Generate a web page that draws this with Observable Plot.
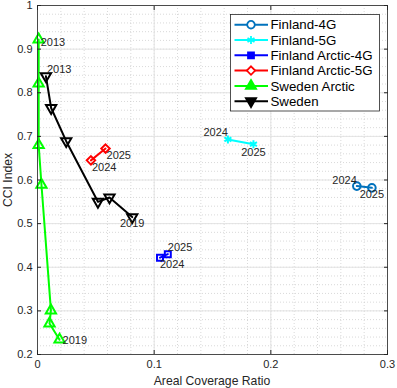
<!DOCTYPE html>
<html><head><meta charset="utf-8">
<script src="https://cdn.jsdelivr.net/npm/d3@7"></script>
<script src="https://cdn.jsdelivr.net/npm/@observablehq/plot@0.6"></script>
<style>
body{margin:0;background:#fff;}
#chart svg{font-family:"Liberation Sans",Arial,sans-serif;background:#fff;}
</style>
</head><body><div id="chart"></div>
<script>
// ---- data ----
const seriesNames = ["Finland-4G","Finland-5G","Finland Arctic-4G","Finland Arctic-5G","Sweden Arctic","Sweden"];
const seriesColors = ["#0072BD","#00FFFF","#0000FF","#FF0000","#00FF00","#000000"];
const seriesSymbols = ["circle","asterisk","square2","diamond2","triangle","triangle"];

const finland4gX = [0.2737, 0.2866];
const finland4gY = [0.586, 0.582];
const finland4gYears = ["2024","2025"];

const finland5gX = [0.1632, 0.1851];
const finland5gY = [0.693, 0.682];
const finland5gYears = ["2024","2025"];

const finArctic4gX = [0.1050, 0.1117];
const finArctic4gY = [0.422, 0.430];
const finArctic4gYears = ["2024","2025"];

const finArctic5gX = [0.0458, 0.0583];
const finArctic5gY = [0.645, 0.672];
const finArctic5gYears = ["2024","2025"];

const swedenArcticX = [0.0010, 0.0010, 0.0010, 0.0034, 0.0115, 0.0103, 0.0189];
const swedenArcticY = [0.922, 0.821, 0.680, 0.589, 0.301, 0.271, 0.234];
const swedenArcticYears = ["2013","2014","2015","2016","2017","2018","2019"];

const swedenX = [0.0072, 0.0117, 0.0246, 0.0518, 0.0617, 0.0812];
const swedenY = [0.838, 0.765, 0.689, 0.550, 0.560, 0.515];
const swedenYears = ["2013","2014","2015","2016","2018","2019"];

const xTicks = [0, 0.1, 0.2, 0.3];
const xTickLabels = ["0","0.1","0.2","0.3"];
const yTicks = [0.2,0.3,0.4,0.5,0.6,0.7,0.8,0.9,1.0];
const yTickLabels = ["0.2","0.3","0.4","0.5","0.6","0.7","0.8","0.9","1"];
const xLabel = "Areal Coverage Ratio";
const yLabel = "CCI Index";

// ---- build rows ----
const seriesData = [
  [seriesNames[0], finland4gX, finland4gY, finland4gYears],
  [seriesNames[1], finland5gX, finland5gY, finland5gYears],
  [seriesNames[2], finArctic4gX, finArctic4gY, finArctic4gYears],
  [seriesNames[3], finArctic5gX, finArctic5gY, finArctic5gYears],
  [seriesNames[4], swedenArcticX, swedenArcticY, swedenArcticYears],
  [seriesNames[5], swedenX, swedenY, swedenYears]
];
const rows = seriesData.flatMap(([s, xs, ys, yrs]) => xs.map((x, i) => ({series: s, x, y: ys[i], year: yrs[i]})));

// year label placement (style only)
const labelSpecs = [
  ["Finland-4G", "2024", "end", 0, -6],
  ["Finland-4G", "2025", "middle", 0, 7],
  ["Finland-5G", "2024", "end", 0, -7],
  ["Finland-5G", "2025", "middle", 0, 8],
  ["Finland Arctic-4G", "2024", "start", 0, 7],
  ["Finland Arctic-4G", "2025", "start", 0, -7],
  ["Finland Arctic-5G", "2024", "start", 1, 7],
  ["Finland Arctic-5G", "2025", "start", 1, 7],
  ["Sweden Arctic", "2013", "start", 2, 3],
  ["Sweden Arctic", "2019", "start", 3, 1],
  ["Sweden", "2013", "start", 1, -7],
  ["Sweden", "2019", "middle", 0, 6]
];
const labelMarks = labelSpecs.map(([s, yr, anchor, dx, dy]) =>
  Plot.text(rows.filter(d => d.series === s && d.year === yr), {
    x: "x", y: "y", text: "year", textAnchor: anchor, dx, dy,
    fontSize: 11, fill: "#262626"
  })
);

const xMinor = d3.range(0, 0.3001, 0.02);
const yMinor = d3.range(0.2, 1.0001, 0.02);

const W = 397, H = 388;
const chart = Plot.plot({
  width: W, height: H,
  marginLeft: 37, marginRight: 10, marginTop: 5, marginBottom: 34,
  style: {fontSize: "11px", color: "#262626", background: "#fff"},
  x: {domain: [0, 0.3]},
  y: {domain: [0.2, 1]},
  color: {domain: seriesNames, range: seriesColors},
  symbol: {domain: seriesNames, range: seriesSymbols},
  marks: [
    Plot.ruleX(xMinor, {stroke: "#c8c8c8", strokeWidth: 0.7, strokeDasharray: "1,2"}),
    Plot.ruleY(yMinor, {stroke: "#c8c8c8", strokeWidth: 0.7, strokeDasharray: "1,2"}),
    Plot.ruleX(xTicks, {stroke: "#e3e3e3", strokeWidth: 1}),
    Plot.ruleY(yTicks, {stroke: "#e3e3e3", strokeWidth: 1}),
    Plot.line(rows, {x: "x", y: "y", z: "series", stroke: "series", strokeWidth: 2}),
    Plot.dot(rows, {x: "x", y: "y", symbol: "series", stroke: "series", fill: "none",
      r: 3.8, strokeWidth: 2, rotate: d => d.series === "Sweden" ? 180 : 0}),
    ...labelMarks,
    Plot.frame({stroke: "#262626", strokeWidth: 0.8}),
    Plot.axisX(xTicks, {anchor: "bottom", tickSize: -4, tickPadding: 10, tickFormat: (d, i) => xTickLabels[i], fontSize: 11, label: null}),
    Plot.axisX(xTicks, {anchor: "top", tickSize: -4, tickFormat: () => "", label: null}),
    Plot.axisY(yTicks, {anchor: "left", tickSize: -4, tickPadding: 9, tickFormat: (d, i) => yTickLabels[i], fontSize: 11, label: null}),
    Plot.axisY(yTicks, {anchor: "right", tickSize: -4, tickFormat: () => "", label: null})
  ]
});

const svg = d3.select(chart);
// axis titles
svg.append("text").attr("x", 212).attr("y", 384.5).attr("text-anchor", "middle")
  .attr("font-size", 12.2).attr("fill", "#262626").text(xLabel);
svg.append("text").attr("transform", "translate(11.5,180) rotate(-90)").attr("text-anchor", "middle")
  .attr("font-size", 12.2).attr("fill", "#262626").text(yLabel);

// legend
const lg = svg.append("g").attr("class", "legend").attr("text-anchor", "start");
lg.append("rect").attr("x", 230.5).attr("y", 14.5).attr("width", 149).attr("height", 96.5)
  .attr("fill", "#fff").attr("stroke", "#262626").attr("stroke-width", 0.8);
const legendFill = [false, false, true, false, true, true];
const symMap = {circle: d3.symbolCircle, asterisk: d3.symbolAsterisk, square2: d3.symbolSquare2,
  diamond2: d3.symbolDiamond2, triangle: d3.symbolTriangle};
seriesNames.forEach((name, i) => {
  const cy = 24.7 + i * 15.3;
  const col = seriesColors[i];
  lg.append("line").attr("x1", 234.5).attr("x2", 268).attr("y1", cy).attr("y2", cy)
    .attr("stroke", col).attr("stroke-width", 2);
  lg.append("path").attr("d", d3.symbol(symMap[seriesSymbols[i]], 3.8 * 3.8 * Math.PI)())
    .attr("transform", `translate(251,${cy})` + (name === "Sweden" ? " rotate(180)" : ""))
    .attr("fill", legendFill[i] ? col : "#fff").attr("stroke", col).attr("stroke-width", 1.8);
  lg.append("text").attr("x", 270.5).attr("y", cy).attr("dy", "0.35em").attr("text-anchor", "start")
    .attr("font-size", 13.3).attr("fill", "#000").text(name);
});

document.getElementById("chart").appendChild(chart);
</script>
</body></html>
